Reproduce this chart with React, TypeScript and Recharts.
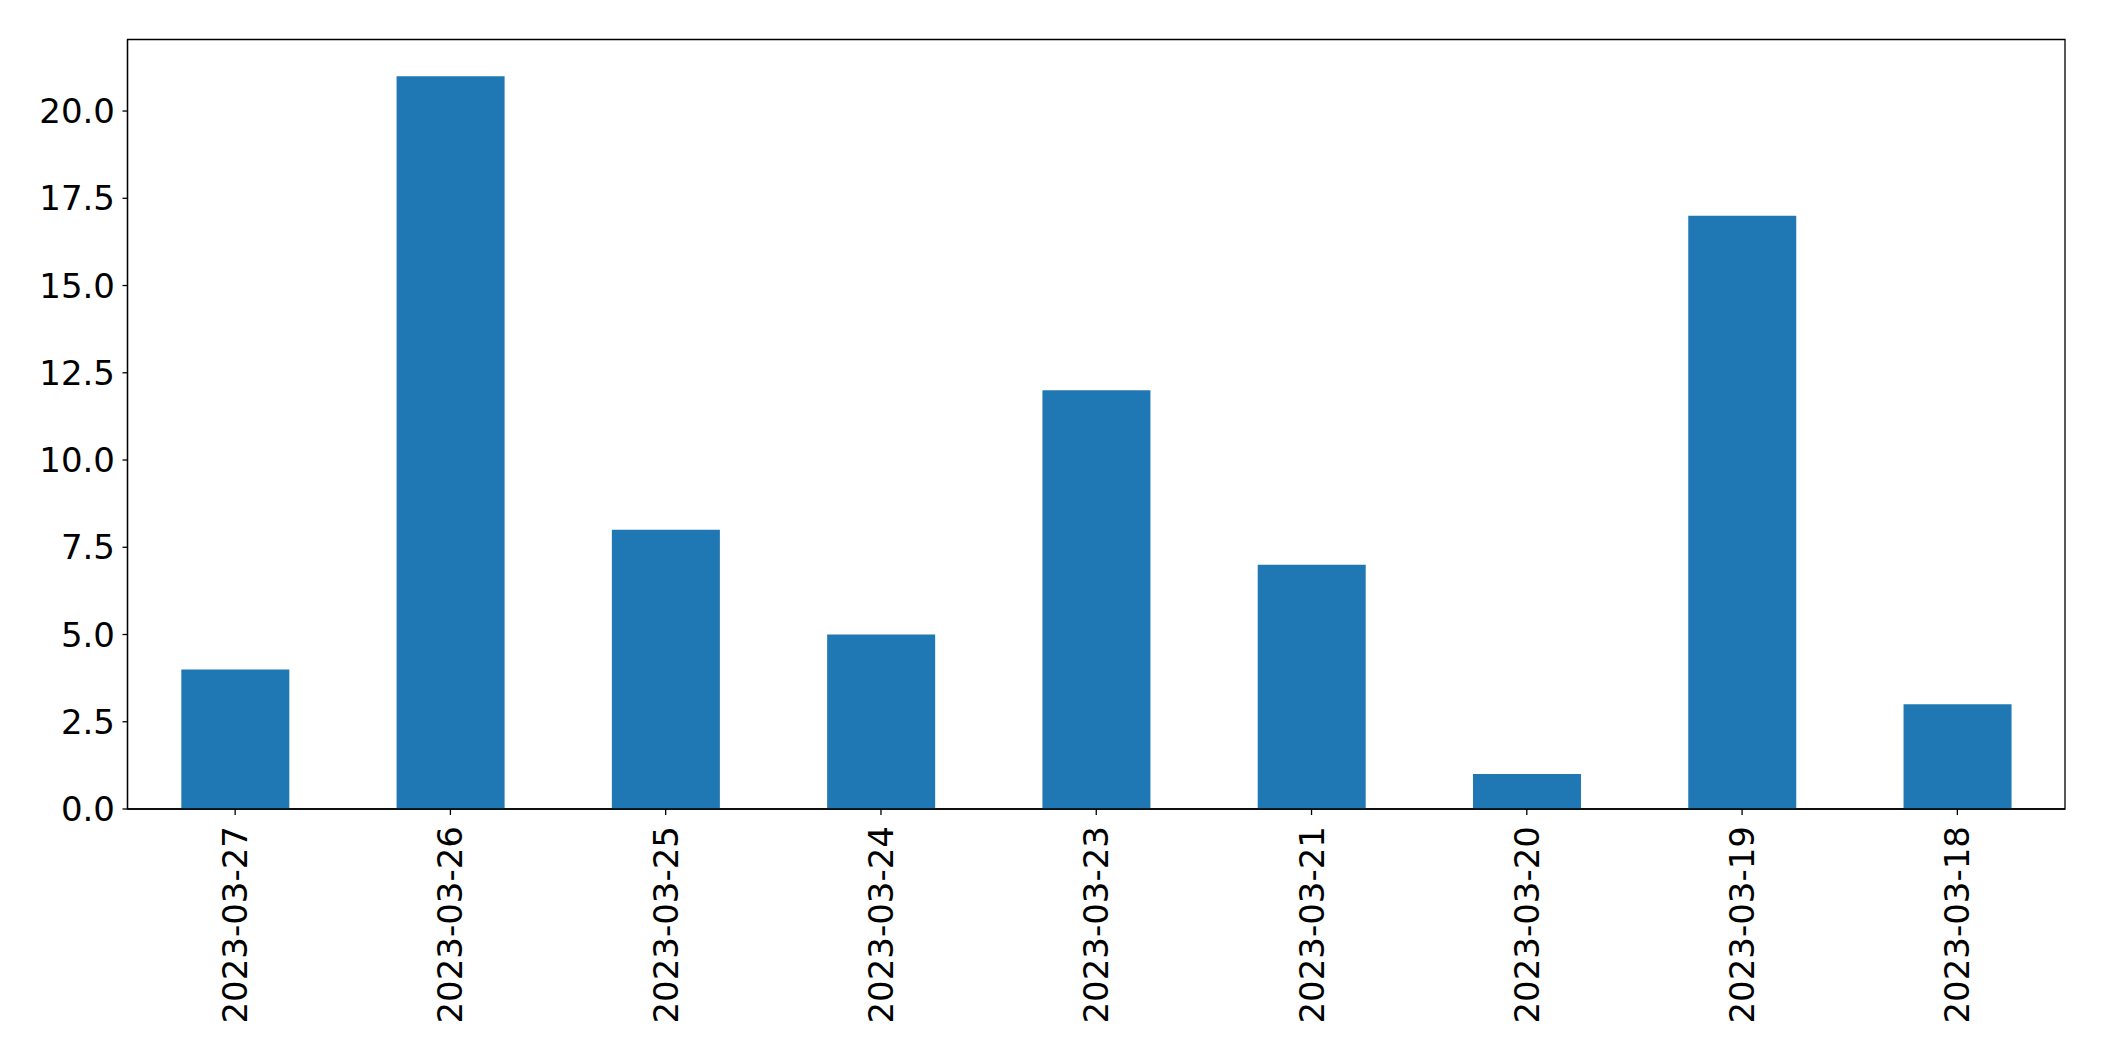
import { Bar, BarChart, ReferenceArea, XAxis, YAxis } from "recharts";

const DATES = [
  "2023-03-27", "2023-03-26", "2023-03-25", "2023-03-24", "2023-03-23",
  "2023-03-21", "2023-03-20", "2023-03-19", "2023-03-18",
];
const COUNTS = [4, 21, 8, 5, 12, 7, 1, 17, 3];
const Y_TICKS = [0, 2.5, 5, 7.5, 10, 12.5, 15, 17.5, 20];

const BAR_BLUE = "#1f77b4";
const FONT = "DejaVu Sans";

const data = DATES.map((date, i) => ({ date, count: COUNTS[i] }));
const yMax = Math.max(...COUNTS) * 1.05;

function DateTick(props: any) {
  const { x, y, payload } = props;
  return (
    <text
      x={x}
      y={y}
      transform={`rotate(-90, ${x}, ${y})`}
      textAnchor="end"
      dominantBaseline="central"
      fontFamily={FONT}
      fontSize={34}
      fill="#000"
    >
      {payload.value}
    </text>
  );
}

export default function App() {
  return (
    <div style={{ position: "absolute", left: 0, top: 0, background: "#fff" }}>
      <BarChart
        width={2104}
        height={1061}
        data={data}
        margin={{ top: 39.5, right: 39, bottom: 0, left: 0 }}
        barCategoryGap="25%"
      >
        <XAxis
          dataKey="date"
          height={252}
          tick={<DateTick />}
          tickSize={6}
          tickMargin={11}
          axisLine={{ stroke: "#000", strokeWidth: 1.3 }}
          tickLine={{ stroke: "#000", strokeWidth: 1.3 }}
          interval={0}
        />
        <YAxis
          domain={[0, yMax]}
          ticks={Y_TICKS}
          width={127.5}
          tickFormatter={(v: number) => v.toFixed(1)}
          tick={{ fontFamily: FONT, fontSize: 34, fill: "#000" }}
          tickSize={5}
          tickMargin={7.5}
          axisLine={{ stroke: "#000", strokeWidth: 1.3 }}
          tickLine={{ stroke: "#000", strokeWidth: 1.3 }}
          allowDataOverflow
        />
        <Bar dataKey="count" fill={BAR_BLUE} isAnimationActive={false} />
        <ReferenceArea y1={0} y2={yMax} fill="none" fillOpacity={0} stroke="#000" strokeWidth={1.3} ifOverflow="visible" />
      </BarChart>
    </div>
  );
}
